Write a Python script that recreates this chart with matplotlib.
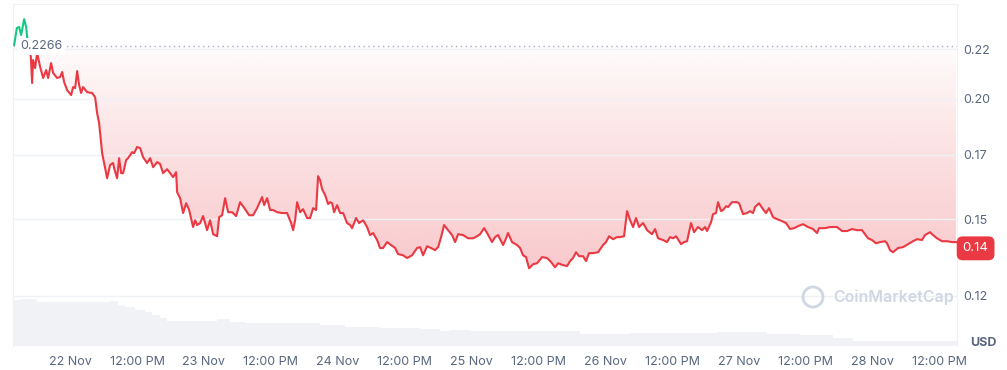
import matplotlib.pyplot as plt
import matplotlib.transforms as mtransforms
from matplotlib.patches import Rectangle, Ellipse
from matplotlib.ticker import FixedLocator, NullLocator
from matplotlib.colors import to_rgb
import numpy as np

plt.rcParams['font.family'] = ['Inter', 'DejaVu Sans']

# hours since 22 Nov 00:00
hours = [
    -10.04, -9.56, -9.15, -8.79, -8.25, -7.89, -7.71,
    -7.05, -6.82, -6.64, -6.28, -5.92, -5.38, -4.84, -4.30, -3.95, -3.41, -3.05, -2.33, -1.79, -1.43, -1.08, -0.54,
    0.18, 0.54, 0.90, 1.26, 1.61, 1.97, 2.33, 3.05, 3.95, 4.48, 4.84, 5.20, 5.74, 6.10, 6.64, 7.17, 7.71, 7.89,
    8.43, 8.79, 9.15, 9.51, 10.04, 10.40, 11.12, 11.48, 12.02, 12.56, 13.09, 13.81, 14.35, 14.89, 15.61, 16.14,
    16.68, 17.40, 17.94, 18.48, 19.01, 19.19, 19.73, 20.27, 20.81, 21.35, 22.06, 22.42, 22.78, 23.32, 23.86,
    24.57, 25.11, 25.65, 26.37, 26.73, 27.26, 27.80, 28.34, 29.06, 29.78, 30.49, 31.39, 32.11, 32.82, 33.54,
    34.44, 34.80, 35.34, 35.87, 36.41, 37.13, 38.03, 38.92, 39.64, 40.00, 40.36, 40.72, 41.26, 41.79, 42.51,
    43.05, 43.59, 44.13, 44.48, 44.84, 45.20, 45.74, 46.28, 46.64, 47.00, 47.35, 47.89,
    48.43, 48.97, 49.69, 50.22, 50.58, 51.30, 51.84, 52.56, 53.27, 53.81, 54.35, 55.07, 55.60, 56.14, 56.86,
    57.58, 58.30, 58.83, 59.73, 60.45, 61.34, 62.24, 62.78, 63.32, 64.04, 64.75, 65.47, 66.01, 66.55, 67.08,
    67.80, 68.52, 69.06, 69.60, 70.49, 71.39,
    72.29, 73.00, 73.54, 74.26, 74.80, 75.69, 76.23, 76.77, 77.67, 78.21, 78.56, 79.28, 80.18, 80.72, 81.25,
    81.79, 82.33, 83.05, 83.77, 84.66, 85.56, 86.28, 86.99, 87.53, 88.43, 89.15, 89.69, 90.22, 90.76, 91.30,
    92.02, 92.55, 93.09, 93.81, 94.71, 95.60,
    96.14, 96.68, 97.40, 98.11, 98.65, 99.37, 99.91, 100.45, 100.99, 101.52, 102.06, 102.78, 103.50, 104.39,
    104.93, 105.47, 106.37, 107.08, 107.62, 108.16, 108.70, 109.60, 110.13, 110.67, 111.39, 111.93, 112.64,
    113.36, 113.90, 114.26, 114.98, 115.33, 115.87, 116.23, 116.77, 117.13, 117.67, 118.03, 118.74, 119.64,
    120.00, 120.72, 121.43, 121.97, 122.51, 122.87, 123.59, 124.30, 124.84, 125.38, 126.10, 126.81, 127.71,
    128.43, 129.15, 129.86, 130.58, 131.48, 132.38, 133.27, 133.99, 134.35, 135.42, 136.32, 137.58, 138.47,
    139.37, 140.27, 141.16, 142.06, 142.60, 143.14, 143.85,
    144.57, 145.29, 146.19, 146.55, 147.08, 147.62, 148.52, 149.42, 150.31, 151.21, 151.93, 152.82, 153.36,
    154.26, 154.80, 155.51, 156.41, 157.31, 158.21, 158.92,
]

price = [
    0.2274, 0.2368, 0.2374, 0.2329, 0.2419, 0.2374, 0.2318,
    0.2210, 0.2077, 0.2194, 0.2152, 0.2231, 0.2158, 0.2102, 0.2142, 0.2102, 0.2178, 0.2127, 0.2102, 0.2107,
    0.2132, 0.2082, 0.2042,
    0.2018, 0.2057, 0.2052, 0.2137, 0.2067, 0.2028, 0.2057, 0.2032, 0.2028, 0.2008, 0.1933, 0.1888, 0.1757,
    0.1716, 0.1655, 0.1708, 0.1716, 0.1695, 0.1655, 0.1736, 0.1675, 0.1675, 0.1728, 0.1736, 0.1761, 0.1757,
    0.1783, 0.1778, 0.1740, 0.1716, 0.1736, 0.1699, 0.1720, 0.1712, 0.1675, 0.1691, 0.1675, 0.1659, 0.1679,
    0.1601, 0.1578, 0.1523, 0.1559, 0.1534, 0.1473, 0.1497, 0.1480, 0.1487, 0.1512,
    0.1462, 0.1497, 0.1448, 0.1441, 0.1508, 0.1515, 0.1578, 0.1526, 0.1526, 0.1512, 0.1563, 0.1537, 0.1515,
    0.1515, 0.1541, 0.1582, 0.1552, 0.1578, 0.1534, 0.1534, 0.1526, 0.1523, 0.1523, 0.1487, 0.1462, 0.1497,
    0.1563, 0.1526, 0.1537, 0.1505, 0.1505, 0.1541, 0.1534, 0.1663, 0.1647, 0.1612, 0.1590, 0.1556, 0.1563,
    0.1559, 0.1526, 0.1552,
    0.1523, 0.1523, 0.1487, 0.1480, 0.1469, 0.1505, 0.1487, 0.1497, 0.1473, 0.1445, 0.1452, 0.1428, 0.1401,
    0.1401, 0.1421, 0.1411, 0.1401, 0.1381, 0.1377, 0.1368, 0.1377, 0.1401, 0.1404, 0.1377, 0.1407, 0.1401,
    0.1394, 0.1404, 0.1438, 0.1480, 0.1462, 0.1445, 0.1421, 0.1448, 0.1445, 0.1434,
    0.1434, 0.1441, 0.1448, 0.1469, 0.1452, 0.1421, 0.1438, 0.1445, 0.1411, 0.1434, 0.1452, 0.1421, 0.1411,
    0.1401, 0.1377, 0.1371, 0.1335, 0.1348, 0.1351, 0.1371, 0.1368, 0.1355, 0.1338, 0.1351, 0.1345, 0.1342,
    0.1358, 0.1368, 0.1387, 0.1374, 0.1374, 0.1358, 0.1384, 0.1384, 0.1387, 0.1411,
    0.1421, 0.1441, 0.1431, 0.1438, 0.1438, 0.1441, 0.1530, 0.1497, 0.1473, 0.1505, 0.1473, 0.1487, 0.1462,
    0.1448, 0.1466, 0.1434, 0.1428, 0.1421, 0.1438, 0.1434, 0.1441, 0.1414, 0.1421, 0.1424, 0.1487, 0.1455,
    0.1473, 0.1462, 0.1473, 0.1459, 0.1490, 0.1519, 0.1523, 0.1563, 0.1530, 0.1534, 0.1548, 0.1545, 0.1563,
    0.1563,
    0.1559, 0.1519, 0.1523, 0.1530, 0.1523, 0.1545, 0.1559, 0.1537, 0.1523, 0.1541, 0.1508, 0.1501, 0.1494,
    0.1487, 0.1466, 0.1469, 0.1476, 0.1483, 0.1473, 0.1466, 0.1452, 0.1469, 0.1469, 0.1473, 0.1473, 0.1459,
    0.1459, 0.1466, 0.1462, 0.1462, 0.1448, 0.1434, 0.1428,
    0.1417, 0.1421, 0.1424, 0.1417, 0.1394, 0.1387, 0.1401, 0.1404, 0.1414, 0.1424, 0.1431, 0.1428, 0.1445,
    0.1455, 0.1445, 0.1434, 0.1424, 0.1424, 0.1421, 0.1421,
]

open_price = 0.2266
last_label = '0.14'

# volume (relative units)
vol_hours = [-10.2, -9.0, -5.9, -1.8, 5.4, 7.2, 8.6, 9.9, 11.7, 13.5, 14.7, 16.1, 17.4, 26.4, 28.7, 31.4,
             44.8, 49.3, 55.6, 62.8, 66.4, 68.2, 71.7, 91.5, 100.4, 116.1, 125.0, 130.9, 136.9, 140.4, 156.0, 159.1]
volume = [46, 47.5, 44, 44.5, 44, 45, 41, 39, 36.5, 34, 31, 28, 25.3, 27, 24.3, 22.7,
          21, 19.3, 18, 17, 15.3, 16.5, 15.3, 12, 12.7, 14.3, 12, 11, 7.7, 5.3, 4.8, 4.5]

y_ticks = [0.225, 0.2, 0.175, 0.15, 0.125]
y_labels = ['0.22', '0.20', '0.17', '0.15', '0.12']
x_ticks = [0, 12, 24, 36, 48, 60, 72, 84, 96, 108, 120, 132, 144, 156]
x_labels = ['22 Nov', '12:00 PM', '23 Nov', '12:00 PM', '24 Nov', '12:00 PM', '25 Nov',
            '12:00 PM', '26 Nov', '12:00 PM', '27 Nov', '12:00 PM', '28 Nov', '12:00 PM']

RED = '#ea3943'
GREEN = '#16c784'
GREY = '#58667e'
GRID = '#eff2f5'

x_min, x_max = -10.25, 159.1
y_min, y_max = 0.1109, 0.2506

fig = plt.figure(figsize=(10.07, 3.70), dpi=100)
left, bottom = 13 / 1007, 1 - 346 / 370
width, height = 944 / 1007, (346 - 4.3) / 370

# volume strip at the bottom
axv = fig.add_axes([left, bottom, width, 50 / 370])
axv.fill_between(vol_hours, volume, step='post', color='#f1f2f5', lw=0)
axv.set_xlim(x_min, x_max)
axv.set_ylim(0, 50)
axv.axis('off')

ax = fig.add_axes([left, bottom, width, height])
ax.patch.set_alpha(0)
ax.set_yscale('log')

# gradient fill between the line and the open price
poly = ax.fill_between(hours, price, open_price, facecolor='none', edgecolor='none')
img = np.zeros((256, 1, 4))
img[..., :3] = to_rgb(RED)
img[..., 3] = np.linspace(0.015, 0.27, 256)[:, None]
im = ax.imshow(img, extent=[x_min, x_max, 0.1325, open_price], aspect='auto', origin='upper', zorder=1)
im.set_clip_path(poly.get_paths()[0], transform=ax.transData)

# price line, green above open, red below
trans = mtransforms.blended_transform_factory(ax.transAxes, ax.transData)
below = Rectangle((0, 0.1), 1, open_price - 0.1, transform=trans)
above = Rectangle((0, open_price), 1, 0.2, transform=trans)
line_r, = ax.plot(hours, price, color=RED, lw=1.5, zorder=3)
line_r.set_clip_path(below)
line_g, = ax.plot(hours, price, color=GREEN, lw=1.5, zorder=3)
line_g.set_clip_path(above)

ax.axhline(open_price, color='#a6b0c3', ls=(0, (1, 2.5)), lw=1, zorder=2)
ax.text(0.0075, open_price, '%.4f' % open_price, transform=trans, ha='left', va='center',
        fontsize=9, color=GREY, zorder=4,
        bbox=dict(boxstyle='round,pad=0.2', fc='white', ec='none'))

ax.set_xlim(x_min, x_max)
ax.set_ylim(y_min, y_max)
ax.yaxis.set_major_locator(FixedLocator(y_ticks))
ax.yaxis.set_minor_locator(NullLocator())
ax.set_yticklabels(y_labels)
ax.yaxis.tick_right()
ax.set_xticks(x_ticks, x_labels)
ax.tick_params(axis='y', length=0, pad=4.5, labelcolor=GREY, labelsize=9)
ax.tick_params(axis='x', length=0, pad=7, labelcolor=GREY, labelsize=9)
ax.grid(axis='y', color=GRID, lw=1, zorder=0)
for side in ['top', 'left', 'right']:
    ax.spines[side].set_color(GRID)
ax.spines['bottom'].set_visible(False)

# last price tag
ax.text(1.006, float(last_label), last_label, transform=trans, ha='left', va='center',
        fontsize=9.5, color='white', zorder=5, clip_on=False,
        bbox=dict(boxstyle='round,pad=0.45', fc=RED, ec='none'))

fig.text(983 / 1007, 1 - 343 / 370, 'USD', ha='center', va='center', fontsize=9,
         fontweight='bold', color=GREY)

# watermark
fig.add_artist(Ellipse((813 / 1007, 1 - 297 / 370), 20 / 1007, 20 / 370, transform=fig.transFigure,
                       fill=False, ec='#cfd6e4', lw=2))
fig.text(833 / 1007, 1 - 297 / 370, 'CoinMarketCap', ha='left', va='center', fontsize=11.5,
         fontweight='semibold', color='#cfd6e4')

fig.savefig('out.png', dpi=100)
